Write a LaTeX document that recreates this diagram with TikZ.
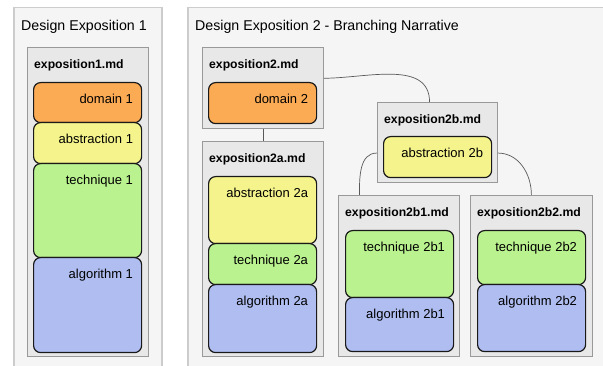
\documentclass[tikz,border=0pt]{standalone}
\usepackage{fontspec}
\setmainfont{Liberation Sans}
\usepackage{tikz}
\usetikzlibrary{positioning}

\definecolor{domcol}{HTML}{FCAB55}
\definecolor{abscol}{HTML}{F5F48C}
\definecolor{teccol}{HTML}{BAF28F}
\definecolor{algcol}{HTML}{AFBDF0}

\tikzset{
  panel/.style={draw=black!20, line width=1.5pt, fill=black!4, anchor=north west, inner sep=0pt},
  mdfile/.style={draw=black!40, line width=0.8pt, fill=black!9, anchor=north west, inner sep=0pt, minimum width=121pt},
  part/.style={draw=black!90, line width=1.2pt, rounded corners=7pt, anchor=north west, inner sep=0pt, minimum width=108pt},
  title/.style={anchor=north west, inner sep=0pt, xshift=8pt, yshift=-13pt, font=\fontsize{14.2}{16}\selectfont},
  fname/.style={anchor=north west, inner sep=0pt, xshift=7pt, yshift=-12pt, font=\fontsize{12.2}{14}\selectfont\bfseries},
  tag/.style={anchor=north east, inner sep=0pt, xshift=-9pt, yshift=-12pt, font=\fontsize{13}{15}\selectfont},
  link/.style={draw=black!65, line width=0.7pt}
}

\begin{document}
\begin{tikzpicture}[x=1pt,y=-1pt]
\useasboundingbox (0,0) rectangle (603,366);
\clip (0,0) rectangle (603,366);
% the two panels
\node[panel, minimum width=148pt, minimum height=400pt, label={[title]north west:Design Exposition 1}] (d1) at (13,7) {};
\node[panel, minimum width=450pt, minimum height=400pt, label={[title]north west:Design Exposition 2 - Branching Narrative}] (d2) at (187,7) {};
%exposition 1
\node[mdfile, minimum height=309pt, label={[fname]north west:exposition1.md}] (x1) at (27,47) {};
\node[part, fill=domcol, minimum height=40pt, label={[tag]north east:domain 1}] (dom1) at (33,82) {};
\node[part, fill=abscol, minimum height=41pt, label={[tag]north east:abstraction 1}] (abs1) at (33,122) {};
\node[part, fill=teccol, minimum height=94pt, label={[tag]north east:technique 1}] (tec1) at (33,163) {};
\node[part, fill=algcol, minimum height=95pt, label={[tag]north east:algorithm 1}] (alg1) at (33,257) {};
%exposition 2, the trunk
\node[mdfile, minimum height=81pt, label={[fname]north west:exposition2.md}] (x2) at (202,47) {};
\node[part, fill=domcol, minimum height=41pt, label={[tag]north east:domain 2}] (dom2) at (208,82) {};
%branch 2a
\node[mdfile, minimum height=215pt, label={[fname]north west:exposition2a.md}] (x2a) at (202,141) {};
\node[part, fill=abscol, minimum height=67pt, label={[tag]north east:abstraction 2a}] (abs2a) at (208,176) {};
\node[part, fill=teccol, minimum height=41pt, label={[tag]north east:technique 2a}] (tec2a) at (208,243) {};
\node[part, fill=algcol, minimum height=68pt, label={[tag]north east:algorithm 2a}] (alg2a) at (208,284) {};
%branch 2b
\node[mdfile, minimum width=120pt, minimum height=80pt, label={[fname]north west:exposition2b.md}] (x2b) at (377,102) {};
\node[part, fill=abscol, minimum height=41pt, label={[tag]north east:abstraction 2b}] (abs2b) at (383,136) {};
%branch 2b1
\node[mdfile, minimum height=161pt, label={[fname]north west:exposition2b1.md}] (x2b1) at (338,195) {};
\node[part, fill=teccol, minimum height=67pt, label={[tag]north east:technique 2b1}] (tec2b1) at (345,230) {};
\node[part, fill=algcol, minimum height=54pt, label={[tag]north east:algorithm 2b1}] (alg2b1) at (345,297) {};
%branch 2b2
\node[mdfile, minimum width=122pt, minimum height=161pt, label={[fname]north west:exposition2b2.md}] (x2b2) at (470,195) {};
\node[part, fill=teccol, minimum height=54pt, label={[tag]north east:technique 2b2}] (tec2b2) at (477,230) {};
\node[part, fill=algcol, minimum height=67pt, label={[tag]north east:algorithm 2b2}] (alg2b2) at (477,284) {};
% links between the files
\draw[link] (x2.south) -- (x2a.north);
\draw[link] (x2.9) to[out=0, in=90] (x2b.101);
\draw[link] (x2b.190) to[out=180, in=90] (x2b1.116);
\draw[link] (x2b.-10) to[out=0, in=90] (x2b2.north);
\end{tikzpicture}
\end{document}
